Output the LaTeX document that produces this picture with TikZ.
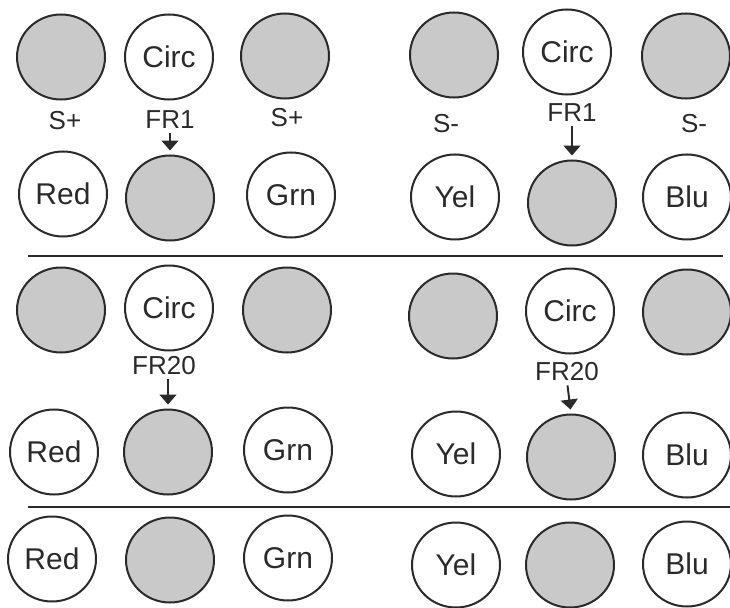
\documentclass[tikz,border=0pt]{standalone}
\usepackage{fontspec}
\setmainfont{Liberation Sans}
\usetikzlibrary{shapes.geometric,arrows.meta}
\definecolor{ink}{HTML}{2A2A2A}
\definecolor{shade}{HTML}{C9C9C9}
\begin{document}
\begin{tikzpicture}[x=1pt,y=-1pt,
  well/.style={ellipse,draw=ink,line width=2pt,minimum width=88pt,minimum height=85pt,
    inner sep=0pt,font=\fontsize{30}{34}\selectfont,text=ink},
  spot/.style={well,fill=shade},
  lbl/.style={inner sep=0pt,font=\fontsize{26}{30}\selectfont,text=ink},
  arr/.style={draw=ink,line width=2pt,shorten <=4pt,shorten >=4pt,
    -{Triangle[width=17pt,length=10pt]}},
  sep/.style={draw=ink,line width=2.6pt}]
\useasboundingbox (0,0) rectangle (730,607);

% ---- panel 1: FR1 ----
\node[spot] (a1) at (61,57) {};
\node[well] (a2) at (169,57) {Circ};
\node[spot] (a3) at (285,56) {};
\node[spot] (a4) at (454,55) {};
\node[well] (a5) at (567,52) {Circ};
\node[spot] (a6) at (686,56) {};

\node[lbl] (la1) at (65,121) {S+};
\node[lbl] (la2) at (170,120) {FR1};
\node[lbl] (la3) at (287,118) {S+};
\node[lbl] (la4) at (446,124) {S-};
\node[lbl] (la5) at (572,113) {FR1};
\node[lbl] (la6) at (694,124) {S-};

\node[well] (b1) at (63,194) {Red};
\node[spot] (b2) at (170,198) {};
\node[well] (b3) at (291,195) {Grn};
\node[well] (b4) at (455,197) {Yel};
\node[spot] (b5) at (572,203) {};
\node[well] (b6) at (687,197) {Blu};

\draw[arr] (la2.south) -- (b2.north);
\draw[arr] (la5.south) -- (b5.north);

\coordinate (s1l) at (28,256);
\coordinate (s1r) at (723,256);
\draw[sep] (s1l) -- (s1r);

% ---- panel 2: FR20 ----
\node[spot] (c1) at (61,310) {};
\node[well] (c2) at (169,308) {Circ};
\node[spot] (c3) at (287,310) {};
\node[spot] (c4) at (453,316) {};
\node[well] (c5) at (570,311) {Circ};
\node[spot] (c6) at (687,312) {};

\node[lbl] (lc2) at (164,366) {FR20};
\node[lbl] (lc5) at (567,372) {FR20};

\node[well] (d1) at (54,452) {Red};
\node[spot] (d2) at (168,452) {};
\node[well] (d3) at (288,450) {Grn};
\node[well] (d4) at (456,454) {Yel};
\node[spot] (d5) at (571,457) {};
\node[well] (d6) at (687,455) {Blu};

\draw[arr] (lc2.south -| d2.north) -- (d2.north);
\draw[arr] (lc5.south) -- (d5.north);

\coordinate (s2l) at (28,507);
\coordinate (s2r) at (730,507);
\draw[sep] (s2l) -- (s2r);

% ---- panel 3 ----
\node[well] (e1) at (52,559) {Red};
\node[spot] (e2) at (170,560) {};
\node[well] (e3) at (288,558) {Grn};
\node[well] (e4) at (456,565) {Yel};
\node[spot] (e5) at (570,565) {};
\node[well] (e6) at (687,564) {Blu};
\end{tikzpicture}
\end{document}
